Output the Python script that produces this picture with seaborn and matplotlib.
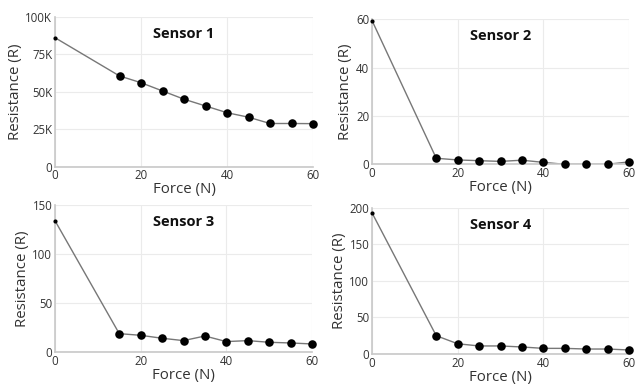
import matplotlib
matplotlib.use("Agg")
import matplotlib.pyplot as plt
import seaborn as sns
import pandas as pd

force = [0, 15, 20, 25, 30, 35, 40, 45, 50, 55, 60]
sensor1 = [86000, 60500, 56000, 50500, 45000, 40500, 36000, 33000, 28800, 28800, 28700]
sensor2 = [59.5, 2.5, 1.8, 1.5, 1.2, 1.7, 0.8, 0.0, 0.0, 0.0, 1.0]
sensor3 = [134, 19, 17.3, 14.3, 11.9, 16.6, 10.9, 11.9, 10.2, 9.5, 8.5]
sensor4 = [193, 25, 14, 11, 11, 9.6, 7.7, 7.7, 6.8, 6.8, 5.5]

titles = ["Sensor 1", "Sensor 2", "Sensor 3", "Sensor 4"]
series = [sensor1, sensor2, sensor3, sensor4]
yticks = [[0, 25000, 50000, 75000, 100000], [0, 20, 40, 60], [0, 50, 100, 150], [0, 50, 100, 150, 200]]
yticklabels = [["0", "25K", "50K", "75K", "100K"], ["0", "20", "40", "60"],
               ["0", "50", "100", "150"], ["0", "50", "100", "150", "200"]]
ylims = [(0, 100000), (0, 60), (0, 150), (0, 200)]
xticks = [0, 20, 40, 60]

sns.set_style("whitegrid")
plt.rcParams['font.family'] = ['Open Sans', 'DejaVu Sans']

fig = plt.figure(figsize=(6.35, 3.86), dpi=100)
positions = [
    [55/635, 1-166.7/386, 258/635, 150/386],
    [372/635, 1-164.3/386, 257/635, 145/386],
    [55/635, 1-352.3/386, 257/635, 147.3/386],
    [372/635, 1-354/386, 257/635, 146.3/386],
]

for i in range(4):
    ax = fig.add_axes(positions[i])
    df = pd.DataFrame({"Force": force, "R": series[i]})
    sns.lineplot(data=df, x="Force", y="R", ax=ax, color="#777777", linewidth=1.0)
    sns.scatterplot(data=df.iloc[1:], x="Force", y="R", ax=ax, color="black", s=38,
                    edgecolor="black", linewidth=0, zorder=5, clip_on=False)
    sns.scatterplot(data=df.iloc[:1], x="Force", y="R", ax=ax, color="black", s=9,
                    edgecolor="black", linewidth=0, zorder=5, clip_on=False)
    ax.set_xlim(0, 60)
    ax.set_ylim(*ylims[i])
    ax.set_xticks(xticks)
    ax.set_xticklabels([str(t) for t in xticks])
    ax.set_yticks(yticks[i])
    ax.set_yticklabels(yticklabels[i])
    ax.tick_params(axis="both", length=0, labelsize=8.3, colors="#333333", pad=2)
    ax.grid(True, color="#ebebeb", linewidth=0.8)
    for s in ["top", "right"]:
        ax.spines[s].set_visible(False)
    for s in ["left", "bottom"]:
        ax.spines[s].set_visible(True)
        ax.spines[s].set_color("#c8c8c8")
        ax.spines[s].set_linewidth(1.2)
    ax.set_xlabel("Force (N)", fontsize=10.8, color="#333333", labelpad=0)
    ax.set_ylabel("Resistance (R)", fontsize=10.8, color="#333333", labelpad=2)
    ax.text(0.5, 0.93, titles[i], transform=ax.transAxes, ha="center", va="top",
            fontsize=10.5, fontweight="bold", color="#111111")

fig.savefig("out.png", dpi=100)
